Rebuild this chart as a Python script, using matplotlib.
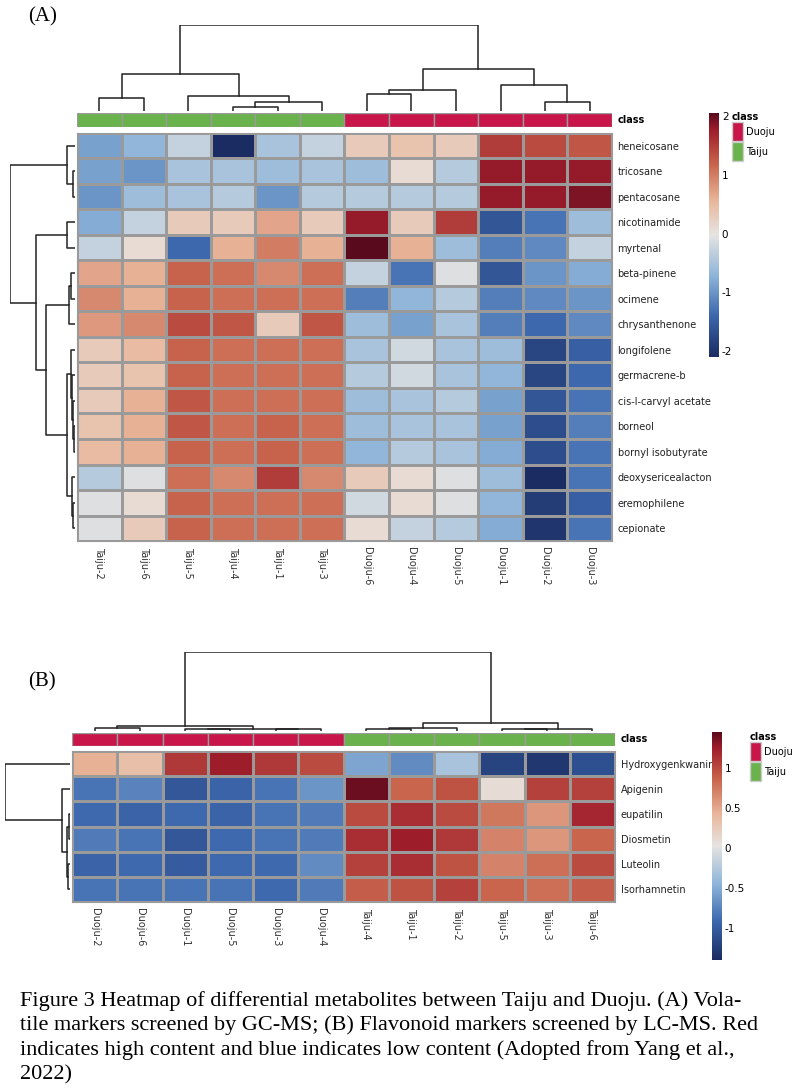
import matplotlib
matplotlib.use("Agg")
import matplotlib.pyplot as plt
import numpy as np
from matplotlib.colors import Normalize, LinearSegmentedColormap
from matplotlib.patches import Rectangle

W, H = 800, 1089
fig = plt.figure(figsize=(8, 10.89), dpi=100)

def ax_px(x0, y0, x1, y1):
    return fig.add_axes([x0 / W, 1 - y1 / H, (x1 - x0) / W, (y1 - y0) / H])

RED, GREEN = "#C8164A", "#6AB24B"
GRID = "#9A9A9A"
cmap = LinearSegmentedColormap.from_list(
    "ref", [(0.0, "#1B2C62"), (0.17, "#3D68AE"), (0.33, "#8DB4D9"), (0.5, "#E6E4E2"),
            (0.64, "#E9B79C"), (0.79, "#C9664D"), (0.93, "#A01E2C"), (1.0, "#5A0A1D")])

# ---------------- Panel A data ----------------
colsA = ["Taiju-2", "Taiju-6", "Taiju-5", "Taiju-4", "Taiju-1", "Taiju-3",
         "Duoju-6", "Duoju-4", "Duoju-5", "Duoju-1", "Duoju-2", "Duoju-3"]
classA = ["Taiju"] * 6 + ["Duoju"] * 6
rowsA = ["heneicosane", "tricosane", "pentacosane", "nicotinamide", "myrtenal",
         "beta-pinene", "ocimene", "chrysanthenone", "longifolene", "germacrene-b",
         "cis-l-carvyl acetate", "borneol", "bornyl isobutyrate",
         "deoxysericealacton", "eremophilene", "cepionate"]
valsA = [
    [-0.9, -0.7, -0.3, -2.1, -0.5, -0.3, 0.3, 0.4, 0.3, 1.5, 1.4, 1.3],
    [-0.9, -1.0, -0.5, -0.5, -0.6, -0.5, -0.6, 0.1, -0.4, 1.8, 1.8, 1.8],
    [-1.0, -0.6, -0.5, -0.4, -1.0, -0.4, -0.4, -0.4, -0.4, 1.8, 1.8, 1.9],
    [-0.8, -0.3, 0.3, 0.3, 0.7, 0.3, 1.8, 0.3, 1.5, -1.6, -1.3, -0.6],
    [-0.3, 0.1, -1.4, 0.6, 1.0, 0.6, 2.2, 0.6, -0.6, -1.2, -1.1, -0.3],
    [0.7, 0.6, 1.2, 1.1, 0.9, 1.1, -0.3, -1.3, -0.1, -1.6, -1.0, -0.8],
    [0.9, 0.6, 1.2, 1.1, 1.1, 1.1, -1.2, -0.7, -0.4, -1.2, -1.1, -1.0],
    [0.8, 0.9, 1.4, 1.3, 0.3, 1.3, -0.6, -0.9, -0.5, -1.2, -1.4, -1.1],
    [0.3, 0.5, 1.2, 1.1, 1.1, 1.1, -0.5, -0.2, -0.5, -0.6, -1.8, -1.5],
    [0.3, 0.4, 1.2, 1.1, 1.1, 1.1, -0.4, -0.2, -0.5, -0.7, -1.8, -1.4],
    [0.3, 0.6, 1.3, 1.1, 1.1, 1.1, -0.6, -0.5, -0.4, -0.9, -1.6, -1.3],
    [0.4, 0.6, 1.3, 1.1, 1.2, 1.1, -0.6, -0.5, -0.5, -0.9, -1.7, -1.2],
    [0.5, 0.6, 1.2, 1.1, 1.2, 1.1, -0.7, -0.4, -0.5, -0.8, -1.7, -1.3],
    [-0.4, -0.1, 1.1, 0.9, 1.5, 0.9, 0.3, 0.1, -0.1, -0.6, -2.1, -1.3],
    [-0.1, 0.1, 1.2, 1.1, 1.1, 1.1, -0.2, 0.1, -0.1, -0.7, -1.9, -1.5],
    [-0.1, 0.3, 1.2, 1.1, 1.1, 1.1, 0.1, -0.3, -0.4, -0.8, -2.0, -1.3],
]
# dendrograms: (left, right, height)
colTreeA = (((0, 1, 0.15), (2, ((3, 4, 0.05), 5, 0.1), 0.18), 0.43),
            (((6, 7, 0.2), 8, 0.25), (9, (10, 11, 0.1), 0.3), 0.49), 1.0)
rowTreeA = (((0, (1, 2, 0.03), 0.12)),
            ((3, 4, 0.12), (((5, 6, 0.06), 7, 0.1),
                            ((8, (9, (10, (11, 12, 0.02), 0.03), 0.04), 0.06),
                             ((13, (14, 15, 0.03), 0.05)), 0.12), 0.45), 0.6), 1.0)

# ---------------- Panel B data ----------------
colsB = ["Duoju-2", "Duoju-6", "Duoju-1", "Duoju-5", "Duoju-3", "Duoju-4",
         "Taiju-4", "Taiju-1", "Taiju-2", "Taiju-5", "Taiju-3", "Taiju-6"]
classB = ["Duoju"] * 6 + ["Taiju"] * 6
rowsB = ["Hydroxygenkwanin", "Apigenin", "eupatilin", "Diosmetin", "Luteolin", "Isorhamnetin"]
valsB = [
    [0.45, 0.35, 1.1, 1.25, 1.1, 1.0, -0.55, -0.7, -0.3, -1.2, -1.3, -1.1],
    [-0.85, -0.75, -1.05, -0.95, -0.85, -0.65, 1.4, 0.85, 0.95, 0.1, 1.05, 1.05],
    [-0.9, -0.95, -0.9, -0.95, -0.85, -0.8, 1.0, 1.15, 1.0, 0.75, 0.6, 1.2],
    [-0.8, -0.85, -1.05, -0.9, -0.85, -0.8, 1.15, 1.25, 1.1, 0.7, 0.6, 0.85],
    [-0.95, -0.9, -1.0, -0.9, -0.9, -0.7, 1.05, 1.15, 0.95, 0.7, 0.8, 1.0],
    [-0.85, -0.85, -0.85, -0.85, -0.9, -0.8, 0.9, 0.95, 1.05, 0.85, 0.8, 0.9],
]
colTreeB = (((0, 1, 0.04), ((2, 3, 0.02), (4, 5, 0.02), 0.03), 0.06),
            (((6, 7, 0.03), 8, 0.04), ((9, 10, 0.02), 11, 0.03), 0.1), 1.0)
rowTreeB = (0, (1, ((2, 3, 0.02), (4, 5, 0.03), 0.05), 0.12), 1.0)


def draw_tree(ax, tree, orient):
    segs = []
    def rec(node):
        if isinstance(node, int):
            return node + 0.5, 0.0
        l, r, h = node
        xl, hl = rec(l)
        xr, hr = rec(r)
        segs.append(((xl, hl), (xl, h), (xr, h), (xr, hr)))
        return (xl + xr) / 2, h
    rec(tree)
    for s in segs:
        xs = [p[0] for p in s]; hs = [p[1] for p in s]
        if orient == "top":
            ax.plot(xs, hs, color="#222222", lw=1.1)
        else:
            ax.plot(hs, xs, color="#222222", lw=1.1)
    ax.axis("off")


def panel(vals, rows, cols, classes, ctree, rtree, box, vmin, vmax, cbbox, ticks, legend_xy, fs_label):
    x0, y0, x1, y1, dtop, cls_y0, cls_y1, dleft = box
    nr, nc = len(rows), len(cols)
    norm = Normalize(vmin, vmax)
    ax = ax_px(x0, y0, x1, y1)
    ax.pcolormesh(np.array(vals), cmap=cmap, norm=norm, edgecolors=GRID, linewidth=1.0)
    ax.set_xlim(0, nc); ax.set_ylim(nr, 0)
    ax.set_xticks(np.arange(nc) + 0.5)
    ax.set_xticklabels(cols, rotation=270, fontsize=fs_label, color="#333333")
    ax.set_yticks(np.arange(nr) + 0.5)
    ax.set_yticklabels(rows, fontsize=fs_label, color="#222222")
    ax.yaxis.tick_right()
    ax.tick_params(length=0, pad=4)
    for s in ax.spines.values():
        s.set_edgecolor(GRID)
    axc = ax_px(x0, cls_y0, x1, cls_y1)
    for i, c in enumerate(classes):
        axc.add_patch(Rectangle((i, 0), 1, 1, facecolor=RED if c == "Duoju" else GREEN,
                                edgecolor=GRID, lw=1.0))
    axc.set_xlim(0, nc); axc.set_ylim(0, 1); axc.axis("off")
    axc.text(nc + 0.12, 0.5, "class", fontsize=fs_label, fontweight="bold", va="center",
             transform=axc.transData)
    axt = ax_px(x0, dtop, x1, cls_y0 - 2)
    draw_tree(axt, ctree, "top")
    axt.set_xlim(0, nc); axt.set_ylim(0, 1.0)
    axr = ax_px(dleft, y0, x0 - 2, y1)
    draw_tree(axr, rtree, "left")
    axr.set_ylim(nr, 0); axr.set_xlim(1.0, 0)
    cx0, cy0, cx1, cy1 = cbbox
    axb = ax_px(cx0, cy0, cx1, cy1)
    grad = np.linspace(vmax, vmin, 256)[:, None]
    axb.imshow(grad, cmap=cmap, norm=norm, aspect="auto", extent=(0, 1, vmin, vmax))
    axb.set_xticks([])
    axb.yaxis.tick_right()
    axb.set_yticks(ticks)
    axb.set_yticklabels([("%g" % t) for t in ticks], fontsize=fs_label + 0.5)
    axb.tick_params(length=0, pad=2)
    for s in axb.spines.values():
        s.set_visible(False)
    lx, ly = legend_xy
    fig.text(lx / W, 1 - ly / H, "class", fontsize=fs_label, fontweight="bold", va="center")
    for k, (lab, col) in enumerate([("Duoju", RED), ("Taiju", GREEN)]):
        yy = ly + 14 + k * 20
        fig.patches.append(Rectangle((lx / W, 1 - (yy + 10) / H), 11 / W, 19 / H,
                                     facecolor=col, edgecolor="#cccccc", transform=fig.transFigure))
        fig.text((lx + 14) / W, 1 - (yy + 1) / H, lab, fontsize=fs_label, va="center")


panel(valsA, rowsA, colsA, classA, colTreeA, rowTreeA,
      (77, 133, 612, 541, 25, 113, 127, 10), -2.1, 2.05, (709, 113, 719, 357),
      [2, 1, 0, -1, -2], (732, 117), 7)
panel(valsB, rowsB, colsB, classB, colTreeB, rowTreeB,
      (72, 751, 615, 902, 652, 733, 746, 5), -1.4, 1.45, (712, 732, 722, 960),
      [1, 0.5, 0, -0.5, -1], (750, 737), 7)

fig.text(28 / W, 1 - 17 / H, "(A)", fontsize=15, family="Liberation Serif", va="center")
fig.text(28 / W, 1 - 682 / H, "(B)", fontsize=15, family="Liberation Serif", va="center")

caption = ["Figure 3 Heatmap of differential metabolites between Taiju and Duoju. (A) Vola-",
           "tile markers screened by GC-MS; (B) Flavonoid markers screened by LC-MS. Red",
           "indicates high content and blue indicates low content (Adopted from Yang et al.,",
           "2022)"]
for i, line in enumerate(caption):
    fig.text(20 / W, 1 - (1001 + i * 24.5) / H, line, fontsize=16.0,
             family="Liberation Serif", va="center")

fig.savefig("out.png", dpi=100, facecolor="white")
